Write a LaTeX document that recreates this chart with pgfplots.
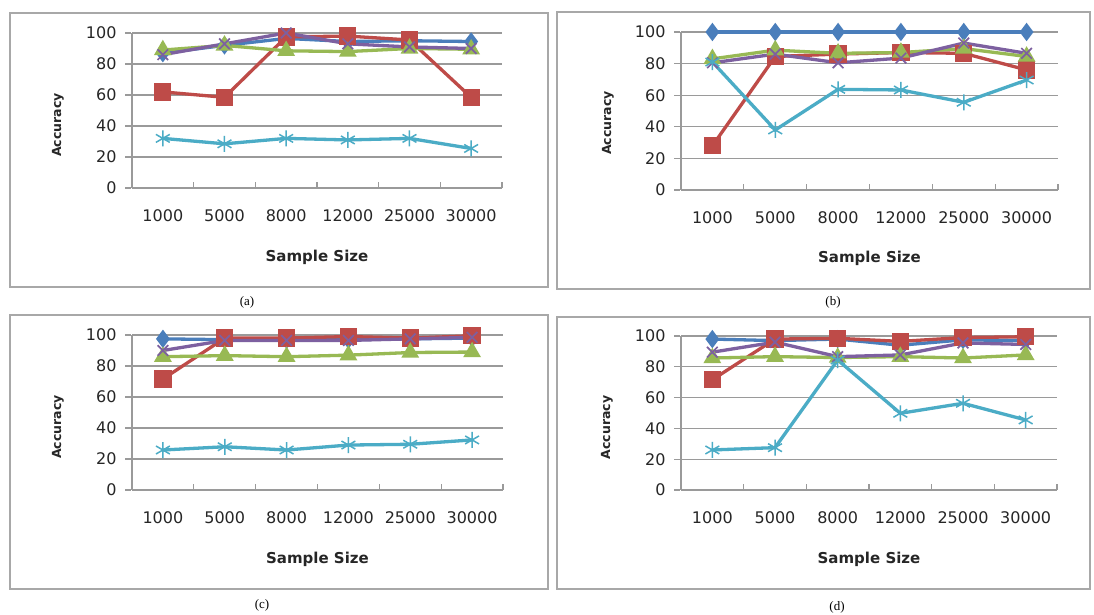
\documentclass[border=0pt]{standalone}
\usepackage{fontspec}
\setmainfont{DejaVu Sans}
\newfontfamily\capfont{Liberation Serif}
\usepackage{pgfplots}
\usepackage{pgfplotstable}
\pgfplotsset{compat=1.18}
\definecolor{sblue}{HTML}{4A7EBB}
\definecolor{sred}{HTML}{BE4B48}
\definecolor{sgreen}{HTML}{98B954}
\definecolor{spurple}{HTML}{7D60A0}
\definecolor{scyan}{HTML}{4BACC6}
\definecolor{axgray}{HTML}{9A9A9A}
\definecolor{boxgray}{HTML}{A8A8A8}

\pgfplotstableread{
x blue red green purple cyan
0 87   62   89   86   32
1 92   58.5 92   93   28.5
2 96.5 97.5 88.5 100  32
3 94.5 98   88   93   31
4 95   95.5 90   91   32
5 94.5 58.5 89.5 90   25.5
}\dataA
\pgfplotstableread{
x blue red green purple cyan
0 100 28   83   80.5 81
1 100 84.5 88.5 86   38
2 100 86   86.5 80.5 63.7
3 100 87   87   83.5 63.3
4 100 86.5 89.5 93   55.5
5 100 76   84.5 86.5 69.6
}\dataB
\pgfplotstableread{
x blue red green purple cyan
0 97.5 71.6 86   90 25.8
1 97   98   86.7 96.5 27.9
2 97   98   86   96.5 25.8
3 97   99   87   96.5 29
4 97.5 98   88.7 97.5 29.5
5 98   99.5 89   98.5 32.3
}\dataC
\pgfplotstableread{
x blue red green purple cyan
0 98   71.6 85.7 89.5 26
1 97   98   86.6 96   27.5
2 98   98.5 86   86.6 84.4
3 94   96.5 86.6 87.7 49.8
4 97.5 99   85.7 95.5 56.3
5 97   99.5 87.7 94.5 45.5
}\dataD

\pgfplotsset{
  panel/.style={
    scale only axis,
    xmin=-0.5, xmax=5.5, ymin=0, ymax=100,
    ytick={0,20,...,100},
    xtick={-0.5,0.5,...,5.5}, xticklabels={},
    extra x ticks={0,1,2,3,4,5},
    extra x tick labels={1000,5000,8000,12000,25000,30000},
    extra x tick style={major tick length=0pt},
    axis x line*=bottom, axis y line*=left,
    axis line style={axgray, line width=1.3pt, -},
    tick align=inside,
    major tick length=6pt,
    tick style={axgray, line width=1.3pt},
    ytick style={xshift=-7pt},
    ymajorgrids,
    grid style={axgray, line width=1.3pt},
    /pgf/number format/assume math mode=true,
    tick label style={font=\fontsize{16}{19}\selectfont, text=black!85},
    xticklabel style={yshift=-18pt},
    yticklabel style={xshift=-12pt},
    xlabel={Sample Size},
    ylabel={Accuracy},
    xlabel style={font=\bfseries\fontsize{15}{18}\selectfont, text=black!85,
      at={(axis description cs:0.5,0)}, anchor=center, yshift=-69pt},
    ylabel style={font=\bfseries\fontsize{12.5}{15}\selectfont, text=black!85,
      anchor=center, yshift=74pt},
    clip=false,
  },
  ser/.style={#1, line width=3.3pt, mark size=6.5pt, mark options={solid, fill=#1}},
}

\newcommand\series[1]{%
  \addplot[ser=sblue, mark=diamond*] table[x=x,y=blue]{#1};
  \addplot[ser=sred, mark=square*, mark size=7pt] table[x=x,y=red]{#1};
  \addplot[ser=sgreen, mark=triangle*, mark size=7pt] table[x=x,y=green]{#1};
  \addplot[ser=spurple, mark=x, mark size=7.5pt, mark options={line width=1.7pt}] table[x=x,y=purple]{#1};
  \addplot[ser=scyan, mark=asterisk, mark size=8pt, mark options={line width=1.5pt}] table[x=x,y=cyan]{#1};
}

\begin{document}
\begin{tikzpicture}
\path[use as bounding box] (0,0) rectangle (1094pt,615pt);
\fill[white] (0,0) rectangle (1094pt,615pt);
% boxes
\draw[boxgray, line width=1.6pt] (10pt,328pt) rectangle (548pt,602pt);
\draw[boxgray, line width=1.6pt] (557pt,326pt) rectangle (1090pt,603pt);
\draw[boxgray, line width=1.6pt] (10pt,26pt) rectangle (548pt,300pt);
\draw[boxgray, line width=1.6pt] (557pt,26pt) rectangle (1090pt,298pt);

\begin{axis}[panel, at={(132pt,427pt)}, anchor=south west, width=370pt, height=155pt,
  ylabel style={at={(axis description cs:0,0.406)}}]
\series{\dataA}
\end{axis}
\begin{axis}[panel, at={(681pt,425pt)}, anchor=south west, width=377pt, height=158pt,
  ylabel style={at={(axis description cs:0,0.424)}, yshift=-1pt}, xlabel style={yshift=1pt}]
\series{\dataB}
\end{axis}
\begin{axis}[panel, at={(132pt,125pt)}, anchor=south west, width=371pt, height=155pt,
  ylabel style={at={(axis description cs:0,0.406)}}]
\series{\dataC}
\end{axis}
\begin{axis}[panel, at={(681pt,125pt)}, anchor=south west, width=376pt, height=154pt,
  ylabel style={at={(axis description cs:0,0.406)}}]
\series{\dataD}
\end{axis}

\node[font=\capfont\fontsize{13}{15}\selectfont] at (247pt,313pt) {(a)};
\node[font=\capfont\fontsize{13}{15}\selectfont] at (833pt,313pt) {(b)};
\node[font=\capfont\fontsize{13}{15}\selectfont] at (262pt,10pt) {(c)};
\node[font=\capfont\fontsize{13}{15}\selectfont] at (837pt,8pt) {(d)};
\end{tikzpicture}
\end{document}
